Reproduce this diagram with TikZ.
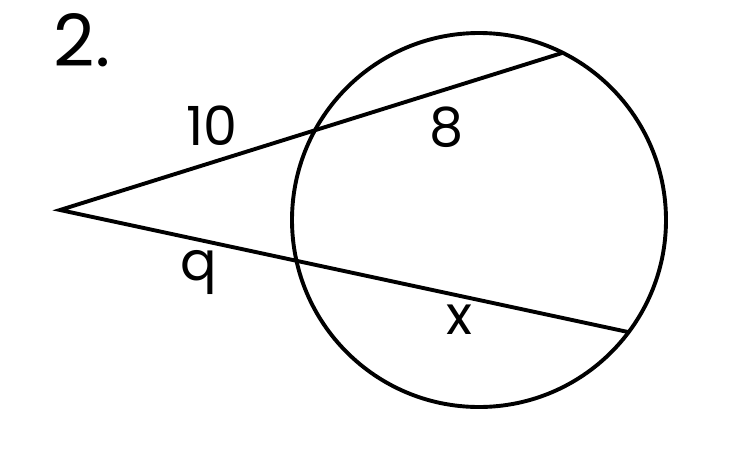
\documentclass[tikz,border=0pt]{standalone}
\usepackage{fontspec}
\setmainfont{Poppins}
\begin{document}
\begin{tikzpicture}[x=1pt,y=-1pt,
  geo/.style={line width=3.9pt,black},
  lbl/.style={font=\fontsize{54}{54}\selectfont,inner sep=0pt},
  num/.style={font=\fontsize{72}{72}\selectfont,inner sep=0pt}]
\useasboundingbox (0,0) rectangle (734,466);
\coordinate (C) at (479,220);
\coordinate (P) at (60,210);
\coordinate (A) at (562,53);
\coordinate (B) at (628,332);
\draw[geo] (C) circle[radius=187];
\draw[geo,line join=miter] (A) -- (P) -- (B);
\node[num] (n) at (82,40) {2.};
\node[lbl] (l10) at (212,126) {10};
\node[lbl] (l8) at (447,127) {8};
\node[lbl] (l9) at (199,272) {q};
\node[lbl] (lx) at (459,320) {x};
\end{tikzpicture}
\end{document}
